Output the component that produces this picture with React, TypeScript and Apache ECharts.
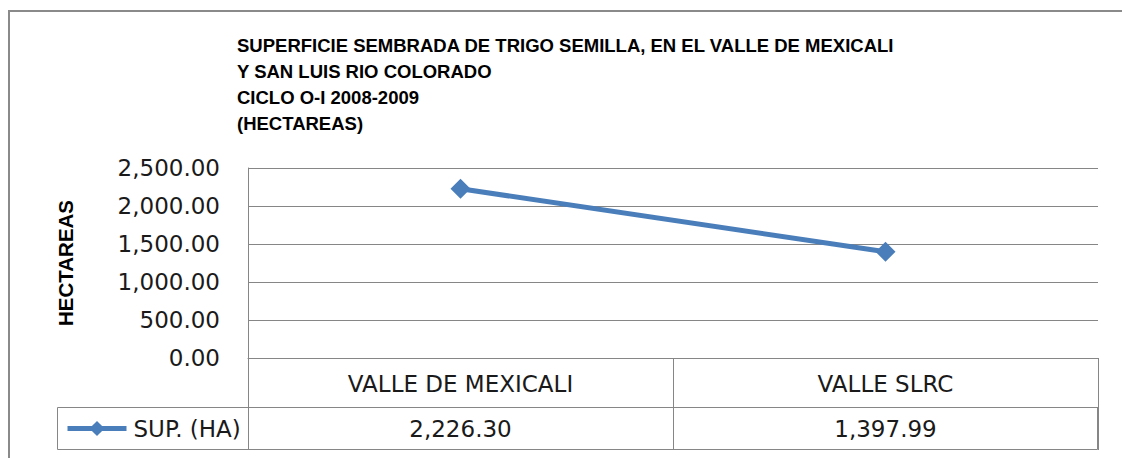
import React, { useEffect, useRef } from "react";
import * as echarts from "echarts";

const titleLines = [
  "SUPERFICIE SEMBRADA DE TRIGO SEMILLA, EN EL VALLE DE MEXICALI",
  "Y SAN LUIS RIO COLORADO",
  "CICLO O-I 2008-2009",
  "(HECTAREAS)",
];
const categories = ["VALLE DE MEXICALI", "VALLE SLRC"];
const seriesName = "SUP. (HA)";
const supHa = [2226.3, 1397.99];
const yAxisName = "HECTAREAS";
const yMin = 0;
const yMax = 2500;
const yInterval = 500;

const fmt = (v: number) =>
  v.toLocaleString("en-US", { minimumFractionDigits: 2, maximumFractionDigits: 2 });

const GRAY = "#868686";
const TXT = "#1a1a1a";
const BLUE = "#4A7EBB";

export default function App() {
  const ref = useRef<HTMLDivElement>(null);
  useEffect(() => {
    if (!ref.current) return;
    const chart = echarts.init(ref.current, undefined, { renderer: "svg" });
    const tableFont = { fontFamily: "DejaVu Sans", fontSize: 23, color: TXT, lineHeight: 23 };
    chart.setOption({
      animation: false,
      backgroundColor: "#ffffff",
      title: {
        text: titleLines.join("\n"),
        left: 237,
        top: 32,
        padding: 0,
        textStyle: {
          fontFamily: "Liberation Sans",
          fontWeight: "bold",
          fontSize: 18.5,
          lineHeight: 26,
          color: "#000",
        },
      },
      legend: {
        data: [seriesName],
        left: 65,
        top: 417,
        padding: 0,
        itemWidth: 59,
        itemHeight: 19,
        lineStyle: { width: 5, color: BLUE },
        itemStyle: { color: BLUE },
        textStyle: { ...tableFont, padding: [0, 0, 0, 2] },
      },
      grid: { left: 248, right: 24, top: 168, bottom: 100, containLabel: false },
      xAxis: [
        {
          type: "category",
          data: categories,
          position: "bottom",
          axisLine: { show: true, lineStyle: { color: GRAY, width: 1 } },
          axisTick: { show: true, length: 49, alignWithLabel: false, lineStyle: { color: GRAY } },
          axisLabel: { margin: 14, ...tableFont },
          splitLine: { show: false },
        },
        {
          type: "category",
          data: supHa.map(fmt),
          position: "bottom",
          offset: 49,
          axisLine: { show: true, lineStyle: { color: GRAY, width: 1 } },
          axisTick: { show: true, length: 43, alignWithLabel: false, lineStyle: { color: GRAY } },
          axisLabel: { margin: 10, ...tableFont },
          splitLine: { show: false },
        },
      ],
      yAxis: {
        type: "value",
        min: yMin,
        max: yMax,
        interval: yInterval,
        name: yAxisName,
        nameLocation: "middle",
        nameRotate: 90,
        nameGap: 172,
        nameTextStyle: {
          fontFamily: "Liberation Sans",
          fontWeight: "bold",
          fontSize: 20.5,
          color: "#000",
        },
        axisLine: { show: true, lineStyle: { color: GRAY, width: 1 } },
        axisTick: { show: false },
        axisLabel: {
          margin: 28,
          fontFamily: "DejaVu Sans",
          fontSize: 23,
          color: TXT,
          formatter: (v: number) => fmt(v),
        },
        splitLine: { show: true, lineStyle: { color: GRAY, width: 1 } },
      },
      series: [
        {
          name: seriesName,
          type: "line",
          xAxisIndex: 0,
          data: supHa,
          symbol: "diamond",
          symbolSize: 20,
          color: BLUE,
          lineStyle: { width: 5, color: BLUE },
          itemStyle: { color: BLUE },
        },
      ],
      graphic: [
        {
          type: "rect",
          shape: { x: 9, y: 11, width: 1300, height: 700 },
          style: { fill: "none", stroke: "#8a8a8a", lineWidth: 2 },
          silent: true,
          z: 100,
        },
        {
          type: "rect",
          shape: { x: 57.5, y: 407.5, width: 1040, height: 42 },
          style: { fill: "none", stroke: GRAY, lineWidth: 1 },
          silent: true,
          z: 90,
        },
      ],
    });
    return () => chart.dispose();
  }, []);
  return (
    <div
      ref={ref}
      style={{ position: "fixed", left: 0, top: 0, width: 1122, height: 458, background: "#fff" }}
    />
  );
}
